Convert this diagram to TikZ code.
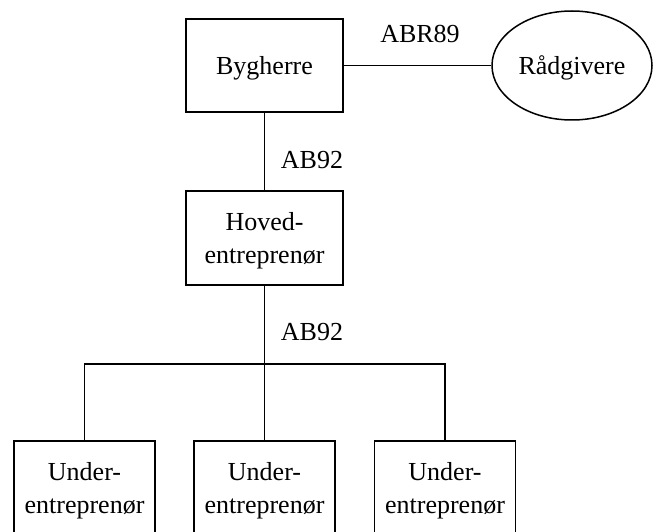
\documentclass[tikz,border=0pt]{standalone}
\usepackage{fontspec}
\setmainfont{Liberation Serif}
\usetikzlibrary{shapes.geometric}
\begin{document}
\begin{tikzpicture}[x=1pt,y=-1pt,
  every node/.style={font=\fontsize{26}{33}\selectfont},
  line/.style={draw=black,line width=1.5pt},
  partybox/.style={line,rectangle,inner sep=0pt,align=center,text depth=0pt,
    minimum width=157pt,minimum height=93pt},
  subbox/.style={line,rectangle,inner sep=0pt,align=center,
    minimum width=141pt,minimum height=100pt},
  advisor/.style={line,ellipse,inner sep=0pt,text depth=0pt,
    minimum width=160pt,minimum height=109pt},
  contract/.style={inner sep=0pt}]
\useasboundingbox (0,0) rectangle (654,532);
\clip (0,0) rectangle (654,532);

% parties
\node[partybox] (byg) at (264.5,65.5) {Bygherre};
\node[advisor] (raad) at (572,65.5) {Rådgivere};
\node[partybox,minimum height=94pt] (hoved) at (264.5,238) {Hoved-\\entreprenør};
\node[subbox] (u1) at (84.5,491) {Under-\\entreprenør};
\node[subbox] (u2) at (264.5,491) {Under-\\entreprenør};
\node[subbox] (u3) at (445,491) {Under-\\entreprenør};

% contract labels
\node[contract] (abr) at (420,34) {ABR89};
\node[contract] (ab1) at (312,160) {AB92};
\node[contract] (ab2) at (312,332) {AB92};

% connectors
\coordinate (bar) at (264.5,364);
\draw[line] (byg.east) -- (raad.west);
\draw[line] (byg.south) -- (hoved.north);
\draw[line] (hoved.south) -- (u2.north);
\draw[line] (u1.north) |- (bar) -| (u3.north);
\end{tikzpicture}
\end{document}
